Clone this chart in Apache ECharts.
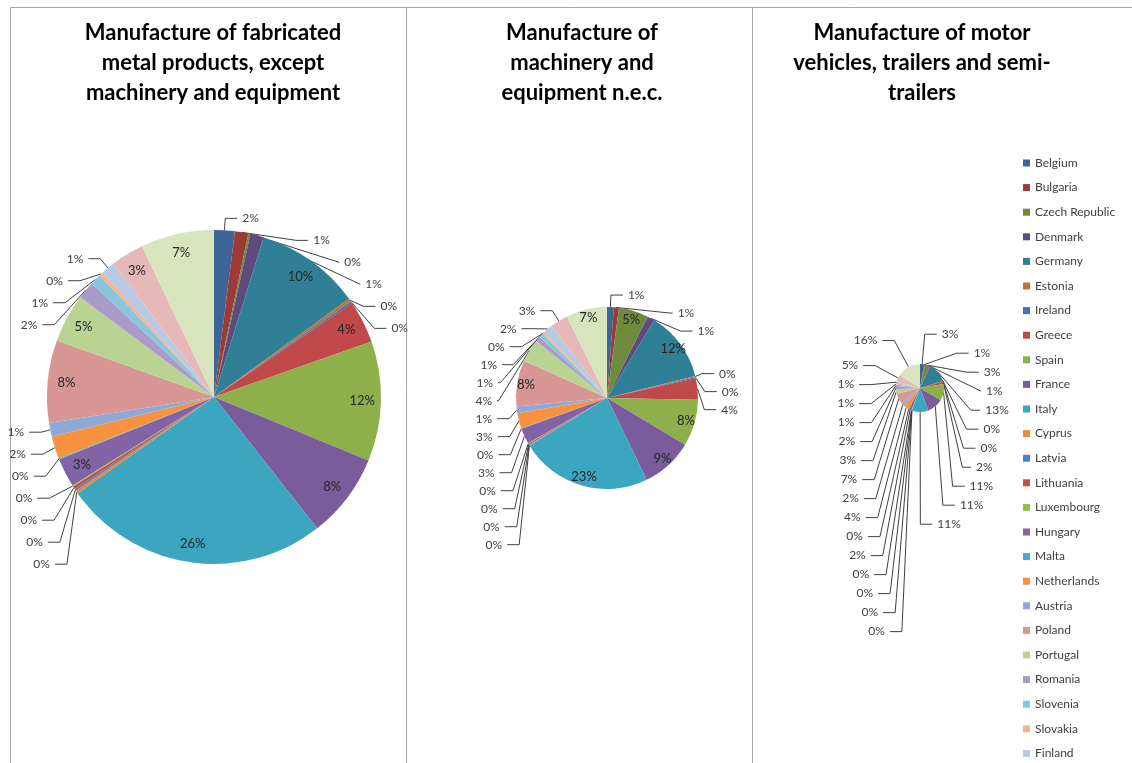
<!DOCTYPE html>
<html>
<head>
<meta charset="utf-8">
<title>Manufacture pies</title>
<style>
html, body { margin: 0; padding: 0; background: #fff; }
#main { width: 1132px; height: 763px; }
</style>
</head>
<body>
<div id="main"></div>
<script src="https://cdn.jsdelivr.net/npm/echarts@6/dist/echarts.min.js"></script>
<script>
// data (shares in %)
var countries = ['Belgium', 'Bulgaria', 'Czech Republic', 'Denmark', 'Germany', 'Estonia', 'Ireland',
	'Greece', 'Spain', 'France', 'Italy', 'Cyprus', 'Latvia', 'Lithuania', 'Luxembourg', 'Hungary',
	'Malta', 'Netherlands', 'Austria', 'Poland', 'Portugal', 'Romania', 'Slovenia', 'Slovakia',
	'Finland', 'Sweden', 'United Kingdom'];
var metalShares = [2.0, 1.3, 0.2, 1.3, 10.2, 0.3, 0.2, 4.1, 11.6, 8.2, 25.8, 0.3, 0.2, 0.3, 0.1, 2.8,
	0.1, 2.2, 1.3, 8.0, 4.7, 1.7, 1.1, 0.4, 1.3, 3.2, 7.1];
var machineryShares = [1.2, 0.9, 5.3, 1.3, 12.4, 0.2, 0.2, 3.8, 8.3, 9.2, 23.4, 0.1, 0.1, 0.2, 0.1, 2.8,
	0.1, 2.7, 1.2, 8.2, 4.1, 0.9, 0.8, 0.4, 1.6, 3.2, 7.3];
var motorShares = [2.8, 0.6, 3.0, 0.7, 13.2, 0.1, 0.2, 1.8, 11.2, 10.8, 11.0, 0.1, 0.1, 0.2, 0.1, 1.9,
	0.1, 3.8, 2.1, 7.2, 3.1, 2.2, 1.0, 1.2, 0.9, 4.8, 15.8];
var titles = [
	'Manufacture of fabricated\nmetal products, except\nmachinery and equipment',
	'Manufacture of\nmachinery and\nequipment n.e.c.',
	'Manufacture of motor\nvehicles, trailers and semi-\ntrailers'
];

var palette = ['#3d6596', '#9c3a38', '#6f8a3c', '#5e4b7d', '#2f7f96', '#c07330', '#3e74b8',
	'#c04848', '#8db04b', '#7a5c9d', '#3ca5c0', '#e9883b', '#4a84c4', '#c94d4d', '#94c04a',
	'#8264a6', '#40b0cc', '#f79240', '#8ea9d6', '#d79594', '#b9d492', '#aa9bc9', '#88c6dc',
	'#f9b48c', '#b7c9e3', '#e6b9b8', '#d7e4bd'];

var fontName = 'Lato, "Open Sans", sans-serif';
var pct = function (p) { return Math.round(p.percent) + '%'; };

// one pie = a solid pie with outside labels for small slices
// plus a transparent ring that carries the labels of the big slices near the rim
function makePie(values, center, r, threshold, lineLen, lineH) {
	var outer = {
		type: 'pie',
		center: center,
		radius: [0, r],
		startAngle: 90,
		clockwise: true,
		avoidLabelOverlap: true,
		emphasis: { scale: false },
		itemStyle: { borderWidth: 0 },
		label: { formatter: pct, fontFamily: fontName, fontSize: 12, color: '#404040',
			lineHeight: lineH, overflow: 'none' },
		labelLine: { length: lineLen, length2: 12, lineStyle: { color: '#404040', width: 1 } },
		data: countries.map(function (n, i) {
			var small = values[i] < threshold;
			return { name: n, value: values[i], label: { show: small }, labelLine: { show: small } };
		})
	};
	var ring = {
		type: 'pie',
		center: center,
		radius: [r * 0.74, r],
		startAngle: 90,
		clockwise: true,
		silent: true,
		emphasis: { disabled: true },
		itemStyle: { color: 'rgba(0,0,0,0)' },
		label: { position: 'inside', formatter: pct, fontFamily: fontName, fontSize: 13, color: '#262626' },
		labelLine: { show: false },
		data: countries.map(function (n, i) {
			return { name: n, value: values[i], label: { show: values[i] >= threshold } };
		})
	};
	return [outer, ring];
}

var myChart = echarts.init(document.getElementById('main'));
var series = []
	.concat(makePie(metalShares, [214, 397], 167, 2.5, 12, 20))
	.concat(makePie(machineryShares, [607, 398], 91, 4.5, 12, 16))
	.concat(makePie(motorShares, [920, 388], 24, 100, 30, 17));

var borderStyle = { stroke: '#a6a6a6', lineWidth: 1 };
myChart.setOption({
	backgroundColor: '#ffffff',
	color: palette,
	animation: false,
	title: titles.map(function (t, i) {
		return {
			text: t,
			left: [208, 577, 917][i],
			top: 13,
			textAlign: 'center',
			textStyle: { fontFamily: fontName, fontSize: 22, fontWeight: 'bold', color: '#000', lineHeight: 30 }
		};
	}),
	legend: {
		orient: 'vertical',
		left: 1018,
		top: 151,
		height: 1000,
		icon: 'rect',
		itemWidth: 7,
		itemHeight: 7,
		itemGap: 10.6,
		data: countries,
		textStyle: { fontFamily: fontName, fontSize: 12, color: '#404040', lineHeight: 14 }
	},
	graphic: [
		{ type: 'line', shape: { x1: 10.5, y1: 7.5, x2: 1132, y2: 7.5 }, style: borderStyle, silent: true },
		{ type: 'line', shape: { x1: 10.5, y1: 7.5, x2: 10.5, y2: 763 }, style: borderStyle, silent: true },
		{ type: 'line', shape: { x1: 406.5, y1: 7.5, x2: 406.5, y2: 763 }, style: borderStyle, silent: true },
		{ type: 'line', shape: { x1: 752.5, y1: 7.5, x2: 752.5, y2: 763 }, style: borderStyle, silent: true }
	],
	series: series
});
</script>
</body>
</html>
